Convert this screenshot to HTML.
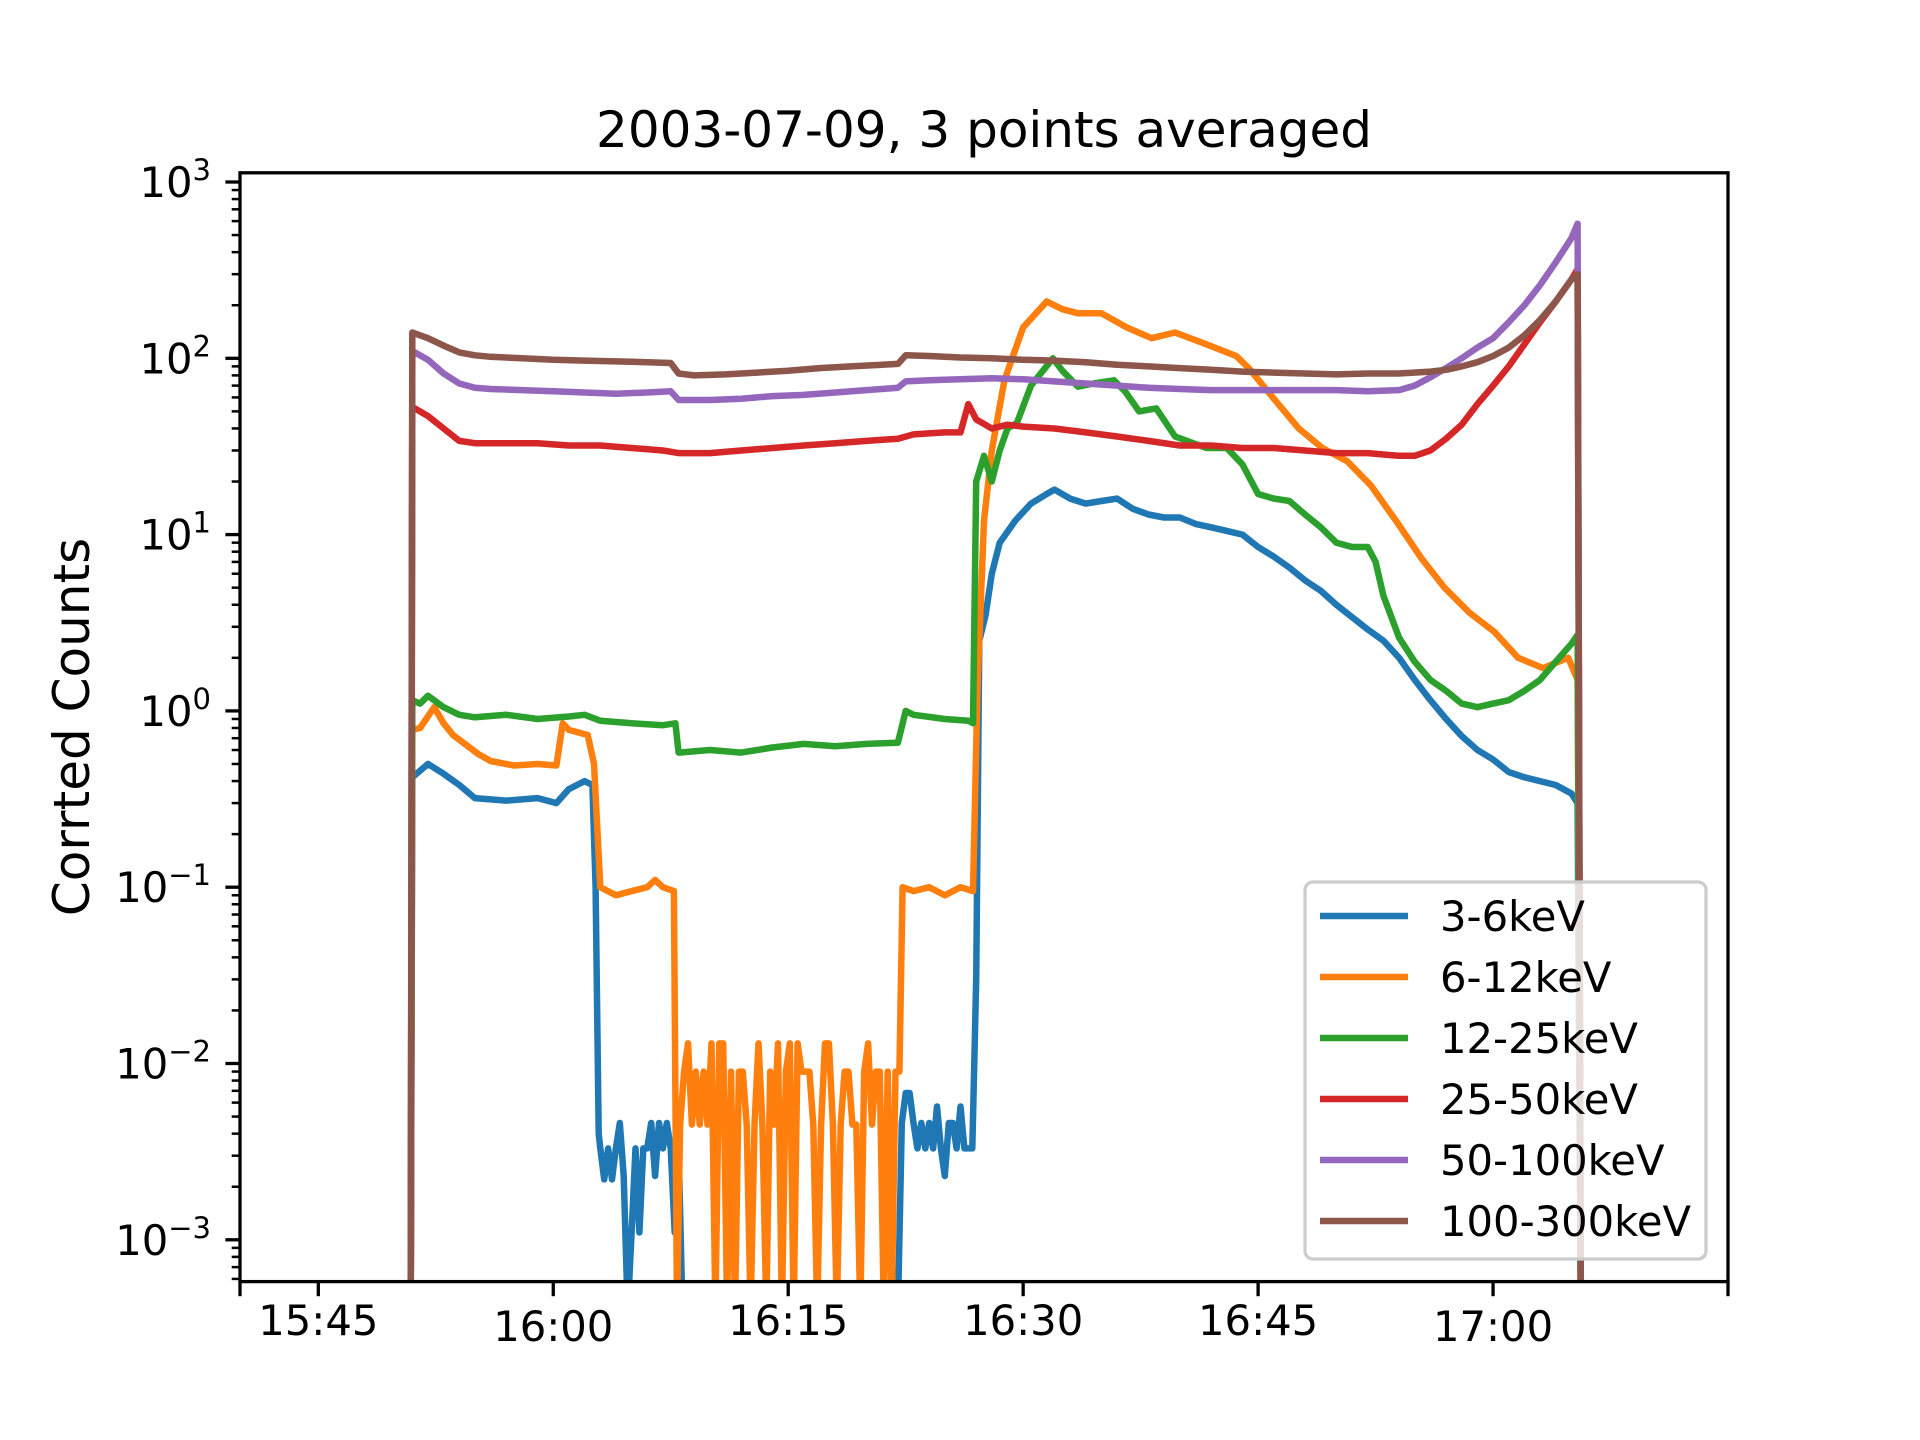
<!DOCTYPE html>
<html><head><meta charset="utf-8"><title>2003-07-09 counts</title>
<style>
html,body{margin:0;padding:0;background:#fff;}
svg{display:block;font-family:"DejaVu Sans","Liberation Sans",sans-serif;}
</style></head>
<body>
<svg id="chart" width="1920" height="1440" viewBox="0 0 1920 1440" xmlns="http://www.w3.org/2000/svg">
<defs><clipPath id="axclip"><rect x="240" y="172.8" width="1488" height="1108.8"/></clipPath></defs>
<rect width="1920" height="1440" fill="#fff"/>
<text x="984" y="147" font-size="50" text-anchor="middle">2003-07-09, 3 points averaged</text>
<text x="0" y="0" font-size="50" text-anchor="middle" transform="translate(89,727) rotate(-90)">Corrted Counts</text>
<g id="ticks"></g>
<g id="series" clip-path="url(#axclip)"></g>
<rect x="240" y="172.8" width="1488" height="1108.8" fill="none" stroke="#000" stroke-width="3.3"/>
<g id="legend"></g>
</svg>
<script>
// time in minutes since 15:40
const xTickMinutes = [5, 20, 35, 50, 65, 80];
const xTickLabels = ["15:45", "16:00", "16:15", "16:30", "16:45", "17:00"];
const yTickExps = [-3, -2, -1, 0, 1, 2, 3];
const seriesNames = ["3-6keV", "6-12keV", "12-25keV", "25-50keV", "50-100keV", "100-300keV"];
const seriesColors = ["#1f77b4", "#ff7f0e", "#2ca02c", "#d62728", "#9467bd", "#8c564b"];

const blueT1 = [10.9, 11, 12, 13, 14, 15, 17, 19, 20.2, 21, 22, 22.5, 22.7, 22.9];
const blueV1 = [0, 0.42, 0.5, 0.44, 0.38, 0.32, 0.31, 0.32, 0.3, 0.36, 0.4, 0.38, 0.1, 0.004];
const blueLowA = [0.0033, 0.0022, 0.0033, 0.0022, 0.0033, 0.0046, 0.0023, 0, 0.0011, 0.0033, 0.0011, 0.0033, 0.0033, 0.0046, 0.0023, 0.0046, 0.0033, 0.0046, 0.0033, 0.0011, 0.0033, 0];
const blueLowAStart = 23.0;
const blueLowB = [0.0046, 0.0068, 0.0068, 0.0046, 0.0033, 0.0046, 0.0033, 0.0046, 0.0033, 0.0057, 0.0033, 0.0023, 0.0046, 0.0046, 0.0033, 0.0057, 0.0033, 0.0033, 0.0033];
const blueLowBStart = 42.25;
const blueT2 = [47.0, 47.2, 47.6, 48, 48.5, 49.5, 50.5, 51.5, 52, 53, 54, 55, 56, 57, 58, 59, 60, 61, 62, 63, 64, 65, 66, 67, 68, 69, 70, 71, 72, 73, 74, 75, 76, 77, 78, 79, 80, 81, 82, 83, 84, 85, 85.4, 85.6];
const blueV2 = [0.03, 2.5, 3.5, 6, 9, 12, 15, 17, 18, 16, 15, 15.5, 16, 14, 13, 12.5, 12.5, 11.5, 11, 10.5, 10, 8.5, 7.5, 6.5, 5.5, 4.8, 4, 3.4, 2.9, 2.5, 2, 1.5, 1.15, 0.9, 0.72, 0.6, 0.53, 0.45, 0.42, 0.4, 0.38, 0.34, 0.3, 0];

const orangeT1 = [10.9, 11, 11.5, 12.4, 13, 13.6, 15.2, 16, 17.5, 19, 20.2, 20.6, 21, 22.2, 22.6, 23, 24, 25, 26, 26.5, 27, 27.7, 27.9];
const orangeV1 = [0, 0.78, 0.8, 1.05, 0.85, 0.73, 0.57, 0.52, 0.49, 0.5, 0.49, 0.85, 0.78, 0.73, 0.5, 0.1, 0.09, 0.095, 0.1, 0.11, 0.1, 0.095, 0];
const orangeLow = [0.0045, 0.009, 0.013, 0.0045, 0.009, 0.0045, 0.009, 0.0045, 0.013, 0, 0.013, 0.013, 0, 0.009, 0, 0.009, 0.009, 0.0045, 0, 0.0045, 0.013, 0.0045, 0, 0.009, 0.0045, 0.013, 0, 0.009, 0.013, 0, 0.013, 0.009, 0.009, 0.009, 0.0045, 0, 0.0045, 0.013, 0.013, 0.0045, 0, 0.0045, 0.009, 0.009, 0.0045, 0.0045, 0, 0.009, 0.013, 0.0045, 0.009, 0.009, 0, 0.009, 0, 0.009, 0.009];
const orangeLowStart = 28.1;
const orangeT2 = [42.3, 43, 44, 45, 46, 46.8, 47.1, 47.5, 48, 48.8, 50, 51.5, 52.5, 53.5, 55, 56.6, 58.2, 59.7, 61.7, 63.6, 64.4, 66, 67.6, 69.1, 70.7, 72.2, 73.8, 75.4, 76.9, 78.5, 80.1, 81.6, 83.2, 84.8, 85.4, 85.6];
const orangeV2 = [0.1, 0.095, 0.1, 0.09, 0.1, 0.095, 1.5, 12, 30, 75, 150, 210, 190, 180, 180, 150, 130, 140, 120, 103, 88, 59, 40, 31, 26, 19, 12, 7.4, 5, 3.6, 2.8, 2, 1.75, 2, 1.5, 0];

const greenT = [10.9, 11, 11.5, 12, 13, 14, 15, 17, 19, 21, 22, 23, 25, 27, 27.8, 28, 30, 32, 34, 36, 38, 40, 42, 42.5, 43, 45, 46.5, 46.8, 47, 47.5, 48, 48.5, 49, 49.6, 50.5, 51.9, 52.5, 53.5, 54.5, 55.8, 56.5, 57.4, 58.5, 59.7, 61.7, 63, 64, 65, 66, 67, 68, 69, 70, 71, 72, 72.5, 73, 74, 75, 76, 77, 78, 79, 80, 81, 82, 83, 84, 85, 85.4, 85.6];
const greenV = [0, 1.15, 1.1, 1.22, 1.05, 0.95, 0.92, 0.95, 0.9, 0.93, 0.95, 0.88, 0.85, 0.83, 0.85, 0.58, 0.6, 0.58, 0.62, 0.65, 0.63, 0.65, 0.66, 1.0, 0.95, 0.9, 0.88, 0.85, 20, 28, 20, 30, 40, 43, 70, 100, 85, 69, 72, 75, 65, 50, 52, 36, 31, 31, 25, 17, 16, 15.5, 13, 11, 9, 8.5, 8.5, 7, 4.5, 2.6, 1.9, 1.5, 1.3, 1.1, 1.05, 1.1, 1.15, 1.3, 1.5, 1.9, 2.4, 2.7, 0];

const redT = [10.9, 11, 12, 13, 14, 15, 17, 19, 21, 23, 25, 27, 28, 30, 32, 34, 36, 38, 40, 42, 43, 45, 46, 46.5, 47, 48, 49, 50, 52, 54, 56, 58, 60, 62, 64, 66, 68, 70, 72, 74, 75, 76, 77, 78, 79, 80, 81, 82, 83, 84, 85, 85.4, 85.6];
const redV = [0, 53, 47, 40, 34, 33, 33, 33, 32, 32, 31, 30, 29, 29, 30, 31, 32, 33, 34, 35, 37, 38, 38, 55, 45, 40, 42, 41, 40, 38, 36, 34, 32, 32, 31, 31, 30, 29, 29, 28, 28, 30, 35, 42, 55, 70, 90, 120, 160, 210, 280, 320, 0];

const purpleT = [10.9, 11, 12, 13, 14, 15, 16, 18, 20, 22, 24, 26, 27.5, 28, 30, 32, 34, 36, 38, 40, 42, 42.5, 44, 46, 48, 50, 52, 54, 56, 58, 60, 62, 64, 66, 68, 70, 72, 74, 75, 76, 77, 78, 79, 80, 81, 82, 83, 84, 85, 85.4, 85.6];
const purpleV = [0, 110, 98, 82, 72, 68, 67, 66, 65, 64, 63, 64, 65, 58, 58, 59, 61, 62, 64, 66, 68, 74, 75, 76, 77, 76, 74, 72, 70, 68, 67, 66, 66, 66, 66, 66, 65, 66, 70, 78, 88, 100, 115, 130, 160, 200, 260, 350, 480, 580, 0];

const brownT = [10.9, 11, 11.5, 12, 13, 14, 15, 16, 18, 20, 22, 24, 26, 27.5, 28, 29, 31, 33, 35, 37, 39, 41, 42, 42.5, 44, 46, 48, 50, 52, 54, 56, 58, 60, 62, 64, 66, 68, 70, 72, 74, 76, 77, 78, 79, 80, 81, 82, 83, 84, 85, 85.4, 85.6];
const brownV = [0, 140, 135, 130, 118, 108, 104, 102, 100, 98, 97, 96, 95, 94, 82, 80, 81, 83, 85, 88, 90, 92, 93, 104, 103, 101, 100, 98, 97, 95, 92, 90, 88, 86, 84, 83, 82, 81, 82, 82, 84, 86, 90, 95, 103, 115, 135, 165, 210, 280, 300, 0];

const X0 = 240, X1 = 1728, TMAX = 95;
const YTOP = 172.8, YBOT = 1281.6;
function xs(t) { return X0 + (t / TMAX) * (X1 - X0); }
function ys(v) { return v <= 0 ? YBOT + 30 : 182 + (3 - Math.log10(v)) * 176.3; }
const NS = "http://www.w3.org/2000/svg";

function steps(start, vals) { return vals.map((v, i) => [start + i * 0.25, v]); }
function zipTV(ts, vs) { return ts.map((t, i) => [t, vs[i]]); }

const blueData = zipTV(blueT1, blueV1).concat(steps(blueLowAStart, blueLowA), [[28.2, 0], [42.0, 0]], steps(blueLowBStart, blueLowB), zipTV(blueT2, blueV2));
const orangeData = zipTV(orangeT1, orangeV1).concat(steps(orangeLowStart, orangeLow), zipTV(orangeT2, orangeV2));
const greenData = zipTV(greenT, greenV);
const redData = zipTV(redT, redV);
const purpleData = zipTV(purpleT, purpleV);
const brownData = zipTV(brownT, brownV);
const allData = [blueData, orangeData, greenData, redData, purpleData, brownData];

const sg = document.getElementById('series');
allData.forEach((d, i) => {
  const p = document.createElementNS(NS, 'path');
  p.setAttribute('d', d.map((pt, k) => (k ? 'L' : 'M') + xs(pt[0]).toFixed(1) + ',' + ys(pt[1]).toFixed(1)).join(''));
  p.setAttribute('fill', 'none');
  p.setAttribute('stroke', seriesColors[i]);
  p.setAttribute('stroke-width', '6.5');
  p.setAttribute('stroke-linejoin', 'round');
  
  
  sg.appendChild(p);
});

const tg = document.getElementById('ticks');
function line(x1, y1, x2, y2, w) {
  const l = document.createElementNS(NS, 'line');
  l.setAttribute('x1', x1); l.setAttribute('y1', y1); l.setAttribute('x2', x2); l.setAttribute('y2', y2);
  l.setAttribute('stroke', '#000'); l.setAttribute('stroke-width', w);
  
  
  tg.appendChild(l);
}
[0, 95].forEach(t => line(xs(t), YBOT, xs(t), YBOT + 14.6, 3.3));
xTickMinutes.forEach((t, i) => {
  line(xs(t), YBOT, xs(t), YBOT + 14.6, 3.3);
  const tx = document.createElementNS(NS, 'text');
  tx.setAttribute('x', xs(t)); tx.setAttribute('y', (i === 1 || i === 5) ? 1341 : 1335);
  tx.setAttribute('font-size', '41.7'); tx.setAttribute('text-anchor', 'middle');
  tx.textContent = xTickLabels[i];
  
  
  tg.appendChild(tx);
});
yTickExps.forEach(e => {
  const y = ys(Math.pow(10, e));
  line(X0 - 14.6, y, X0, y, 3.3);
  const tx = document.createElementNS(NS, 'text');
  tx.setAttribute('x', 211); tx.setAttribute('y', y + 15);
  tx.setAttribute('font-size', '41.7'); tx.setAttribute('text-anchor', 'end');
  tx.innerHTML = '10<tspan font-size="29" dy="-17">' + (e < 0 ? '\u2212' + (-e) : e) + '</tspan>';
  
  
  tg.appendChild(tx);
  for (let m = 2; m <= 9; m++) {
    const v = m * Math.pow(10, e);
    const yy = ys(v);
    if (yy >= YTOP && yy <= YBOT) line(X0 - 8.3, yy, X0, yy, 2.5);
  }
});
[4, 5, 6, 7, 8, 9].forEach(m => { const yy = ys(m * 1e-4); if (yy >= YTOP && yy <= YBOT) line(X0 - 8.3, yy, X0, yy, 2.5); });

const lg = document.getElementById('legend');
const box = document.createElementNS(NS, 'rect');
box.setAttribute('x', 1305); box.setAttribute('y', 882); box.setAttribute('width', 401); box.setAttribute('height', 377);
box.setAttribute('rx', 8); box.setAttribute('fill', '#fff'); box.setAttribute('fill-opacity', '0.8');
box.setAttribute('stroke', '#cccccc'); box.setAttribute('stroke-width', '3.3');


lg.appendChild(box);
seriesNames.forEach((n, i) => {
  const y = 916 + i * 61;
  const l = document.createElementNS(NS, 'line');
  l.setAttribute('x1', 1320); l.setAttribute('x2', 1408); l.setAttribute('y1', y); l.setAttribute('y2', y);
  l.setAttribute('stroke', seriesColors[i]); l.setAttribute('stroke-width', '6.5');
  
  
  lg.appendChild(l);
  const t = document.createElementNS(NS, 'text');
  t.setAttribute('x', 1440); t.setAttribute('y', y + 15); t.setAttribute('font-size', '41.7');
  t.textContent = n;
  
  
  lg.appendChild(t);
});
</script>
</body></html>
